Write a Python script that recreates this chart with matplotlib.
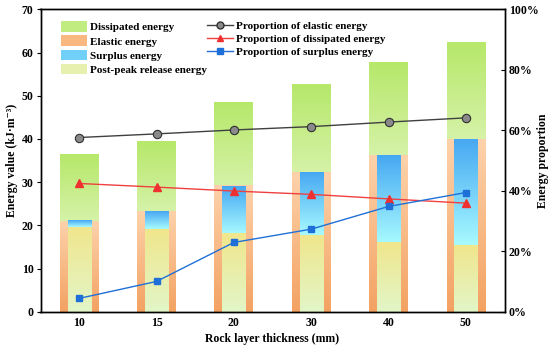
import numpy as np
import matplotlib
matplotlib.use('Agg')
import matplotlib.pyplot as plt
from matplotlib.colors import LinearSegmentedColormap
from matplotlib.patches import Patch
from matplotlib.lines import Line2D
from matplotlib.ticker import PercentFormatter

# data
thickness = ['10', '15', '20', '30', '40', '50']
total_energy = [36.5, 39.3, 48.6, 52.7, 57.7, 62.2]      # elastic + dissipated
elastic_energy = [21.0, 23.2, 29.2, 32.2, 36.3, 39.9]
postpeak_energy = [19.5, 19.2, 18.1, 17.8, 16.0, 15.4]
prop_elastic = [57.6, 58.8, 60.1, 61.2, 62.7, 64.1]
prop_dissipated = [42.4, 41.2, 39.9, 38.8, 37.3, 35.9]
prop_surplus = [4.4, 10.0, 22.9, 27.3, 34.8, 39.4]

plt.rcParams['font.family'] = ['Liberation Serif', 'DejaVu Serif']
plt.rcParams['font.weight'] = 'bold'

fig = plt.figure(figsize=(5.5, 3.48), dpi=100)
ax = fig.add_axes([40.5 / 550, 36.3 / 348, 464 / 550, 302.4 / 348])


def grad_bar(ax, x, bottom, top, width, c_top, c_bot):
    cmap = LinearSegmentedColormap.from_list('g', [c_bot, c_top])
    grad = np.linspace(0, 1, 256).reshape(-1, 1)
    ax.imshow(grad, cmap=cmap, origin='lower', aspect='auto', zorder=2,
              extent=[x - width / 2, x + width / 2, bottom, top])


x = np.arange(len(thickness))
for i in x:
    grad_bar(ax, i, elastic_energy[i], total_energy[i], 0.5, '#b6e86a', '#d6f2a8')
    grad_bar(ax, i, 0, elastic_energy[i], 0.5, '#fdd2ab', '#f3a262')
    grad_bar(ax, i, postpeak_energy[i], elastic_energy[i], 0.3, '#46a8f2', '#a8faff')
    grad_bar(ax, i, 0, postpeak_energy[i], 0.3, '#f0e68c', '#e2f6c8')

ax.set_xlim(-0.5, 5.5)
ax.set_ylim(0, 70)
ax.set_xticks(x)
ax.set_xticklabels(thickness)
ax.set_yticks(range(0, 71, 10))
ax.tick_params(axis='y', direction='out', length=3, labelsize=8.5, pad=2)
ax.tick_params(axis='x', direction='in', length=3, labelsize=8.5, pad=4)
ax.set_xlabel('Rock layer thickness (mm)', fontsize=8.5, fontweight='bold', labelpad=3)
ax.set_ylabel('Energy value (kJ·m⁻³)', fontsize=8.5, fontweight='bold', labelpad=3)

ax2 = ax.twinx()
ax2.plot(x, prop_elastic, color='#404040', lw=1, marker='o', ms=6,
         mfc='#8a8a8a', mec='#303030', mew=0.8)
ax2.plot(x, prop_dissipated, color='#f04040', lw=1, marker='^', ms=6,
         mfc='#f03030', mec='#f03030')
ax2.plot(x, prop_surplus, color='#2070d8', lw=1, marker='s', ms=5,
         mfc='#1f6fd8', mec='#1f6fd8')
ax2.set_ylim(0, 100)
ax2.set_yticks(range(0, 101, 20))
ax2.yaxis.set_major_formatter(PercentFormatter(decimals=0))
ax2.tick_params(axis='y', direction='in', length=3, labelsize=8.5, pad=3)
ax2.set_ylabel('Energy proportion', fontsize=8.5, fontweight='bold', labelpad=-1)

for a in (ax, ax2):
    for s in a.spines.values():
        s.set_linewidth(1.0)
    for lab in a.get_xticklabels() + a.get_yticklabels():
        lab.set_fontweight('bold')

h1 = [Patch(facecolor='#c0ec80', label='Dissipated energy'),
      Patch(facecolor='#f8b880', label='Elastic energy'),
      Patch(facecolor='#70d0f8', label='Surplus energy'),
      Patch(facecolor='#e8f0b0', label='Post-peak release energy')]
leg1 = ax2.legend(handles=h1, loc='upper left', bbox_to_anchor=(0.035, 0.975),
                  frameon=False, handlelength=2.3, handleheight=1.1,
                  handletextpad=0.3, labelspacing=0.27, borderaxespad=0,
                  prop={'weight': 'bold', 'size': 8})
ax2.add_artist(leg1)
h2 = [Line2D([], [], color='#404040', lw=1, marker='o', ms=5, mfc='#8a8a8a', mec='#303030',
             label='Proportion of elastic energy'),
      Line2D([], [], color='#f04040', lw=1, marker='^', ms=5, mfc='#f03030', mec='#f03030',
             label='Proportion of dissipated energy'),
      Line2D([], [], color='#2070d8', lw=1, marker='s', ms=4.5, mfc='#1f6fd8', mec='#1f6fd8',
             label='Proportion of surplus energy')]
ax2.legend(handles=h2, loc='upper left', bbox_to_anchor=(0.35, 0.975),
           frameon=False, handlelength=2.3, handletextpad=0.3, labelspacing=0.27,
           borderaxespad=0, prop={'weight': 'bold', 'size': 8})

fig.savefig('out.png', dpi=100)
